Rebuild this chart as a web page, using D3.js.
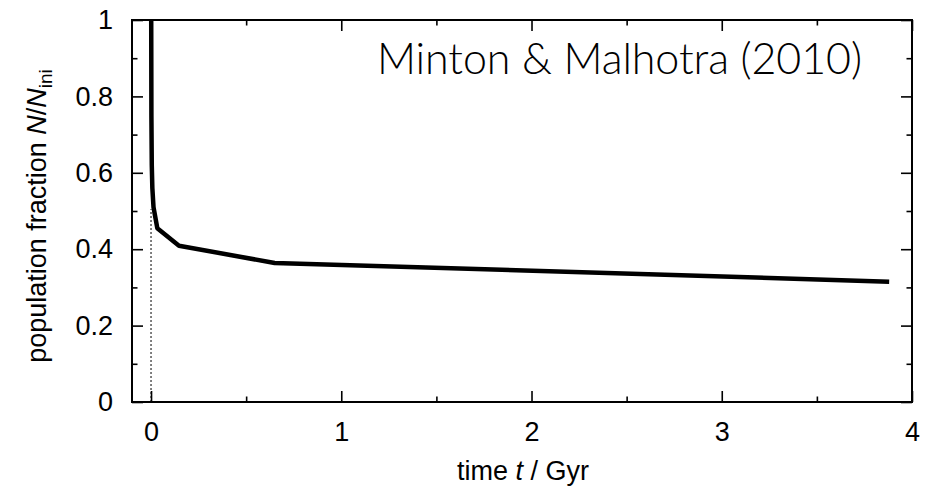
<!DOCTYPE html>
<html>
<head>
<meta charset="utf-8">
<script src="https://cdn.jsdelivr.net/npm/d3@7"></script>
<style>
  html, body { margin: 0; padding: 0; background: #fff; }
  svg { display: block; }
  .axis text { font-family: "Liberation Sans", Arial, sans-serif; font-size: 27px; fill: #000; }
  .axis line { stroke: #000; stroke-width: 1.6px; }
</style>
</head>
<body>
<svg id="chart" width="933" height="487"></svg>
<script>
// Surviving population fraction versus time
const timeGyr  = [0.001, 0.002, 0.004, 0.007, 0.013, 0.033, 0.147, 0.65, 3.88];
const fraction = [1.00, 0.75, 0.62, 0.56, 0.51, 0.455, 0.409, 0.364, 0.315];

const xMajorTicks = [0, 1, 2, 3, 4];
const xMinorTicks = [0.5, 1.5, 2.5, 3.5];
const yMajorTicks = [0, 0.2, 0.4, 0.6, 0.8, 1];
const yMinorTicks = [0.1, 0.3, 0.5, 0.7, 0.9];
const yTickLabels = ["0", "0.2", "0.4", "0.6", "0.8", "1"];

const xDomain = [-0.1, 4];
const yDomain = [0, 1];
const markerT = 0;          // dotted reference line at t = 0
const markerTop = 0.505;    // where it meets the curve

const svg = d3.select("#chart");
const margin = { left: 132, right: 21, top: 20, bottom: 85 };
const W = 933, H = 487;

const x = d3.scaleLinear().domain(xDomain).range([margin.left, W - margin.right]);
const y = d3.scaleLinear().domain(yDomain).range([H - margin.bottom, margin.top]);

const MAJ = 11, MIN = 5.5;

// bottom axis with labels
svg.append("g").attr("class", "axis")
  .attr("transform", `translate(0,${y(0)})`)
  .call(d3.axisBottom(x).tickValues(xMajorTicks).tickSize(-MAJ).tickPadding(20).tickFormat(d3.format("d")));
svg.append("g").attr("class", "axis")
  .attr("transform", `translate(0,${y(0)})`)
  .call(d3.axisBottom(x).tickValues(xMinorTicks).tickSize(-MIN).tickFormat(""));

// top mirrored ticks
svg.append("g").attr("class", "axis")
  .attr("transform", `translate(0,${y(1)})`)
  .call(d3.axisTop(x).tickValues(xMajorTicks).tickSize(-MAJ).tickFormat(""));
svg.append("g").attr("class", "axis")
  .attr("transform", `translate(0,${y(1)})`)
  .call(d3.axisTop(x).tickValues(xMinorTicks).tickSize(-MIN).tickFormat(""));

// left axis with labels
svg.append("g").attr("class", "axis")
  .attr("transform", `translate(${x(xDomain[0])},0)`)
  .call(d3.axisLeft(y).tickValues(yMajorTicks).tickSize(-MAJ).tickPadding(19)
    .tickFormat((d, i) => yTickLabels[i]));
svg.append("g").attr("class", "axis")
  .attr("transform", `translate(${x(xDomain[0])},0)`)
  .call(d3.axisLeft(y).tickValues(yMinorTicks).tickSize(-MIN).tickFormat(""));

// right mirrored ticks
svg.append("g").attr("class", "axis")
  .attr("transform", `translate(${x(xDomain[1])},0)`)
  .call(d3.axisRight(y).tickValues(yMajorTicks).tickSize(-MAJ).tickFormat(""));
svg.append("g").attr("class", "axis")
  .attr("transform", `translate(${x(xDomain[1])},0)`)
  .call(d3.axisRight(y).tickValues(yMinorTicks).tickSize(-MIN).tickFormat(""));

svg.selectAll(".axis .domain").remove();

// plot frame
svg.append("rect")
  .attr("x", x(xDomain[0])).attr("y", y(1))
  .attr("width", x(xDomain[1]) - x(xDomain[0]))
  .attr("height", y(0) - y(1))
  .attr("fill", "none").attr("stroke", "#000").attr("stroke-width", 2);

// dotted marker at t = 0
svg.append("line")
  .attr("x1", x(markerT)).attr("x2", x(markerT))
  .attr("y1", y(0)).attr("y2", y(markerTop))
  .attr("stroke", "#000").attr("stroke-width", 1)
  .attr("stroke-dasharray", "2,2");

// population curve
const line = d3.line().x((d, i) => x(timeGyr[i])).y(d => y(d));
svg.append("path")
  .datum(fraction)
  .attr("d", line)
  .attr("fill", "none")
  .attr("stroke", "#000")
  .attr("stroke-width", 4.5)
  .attr("stroke-linejoin", "round");

// title inside the plot
svg.append("text")
  .attr("x", 862).attr("y", 74)
  .attr("text-anchor", "end")
  .attr("font-family", "Lato, 'Noto Sans', sans-serif")
  .attr("font-weight", 300)
  .attr("font-size", 43)
  .attr("textLength", 485)
  .attr("lengthAdjust", "spacing")
  .attr("fill", "#000")
  .text("Minton & Malhotra (2010)");

// x axis label
const xl = svg.append("text")
  .attr("x", 523).attr("y", 480)
  .attr("text-anchor", "middle")
  .attr("font-family", "'Liberation Sans', Arial, sans-serif")
  .attr("font-size", 27).attr("fill", "#000");
xl.append("tspan").text("time ");
xl.append("tspan").attr("font-style", "italic").text("t");
xl.append("tspan").text(" / Gyr");

// y axis label
const yl = svg.append("text")
  .attr("transform", `translate(46,216) rotate(-90)`)
  .attr("text-anchor", "middle")
  .attr("font-family", "'Liberation Sans', Arial, sans-serif")
  .attr("font-size", 27).attr("fill", "#000");
yl.append("tspan").text("population fraction ");
yl.append("tspan").attr("font-style", "italic").text("N");
yl.append("tspan").text("/");
yl.append("tspan").attr("font-style", "italic").text("N");
yl.append("tspan").attr("font-size", 19).attr("dy", 6).text("ini");
</script>
</body>
</html>
